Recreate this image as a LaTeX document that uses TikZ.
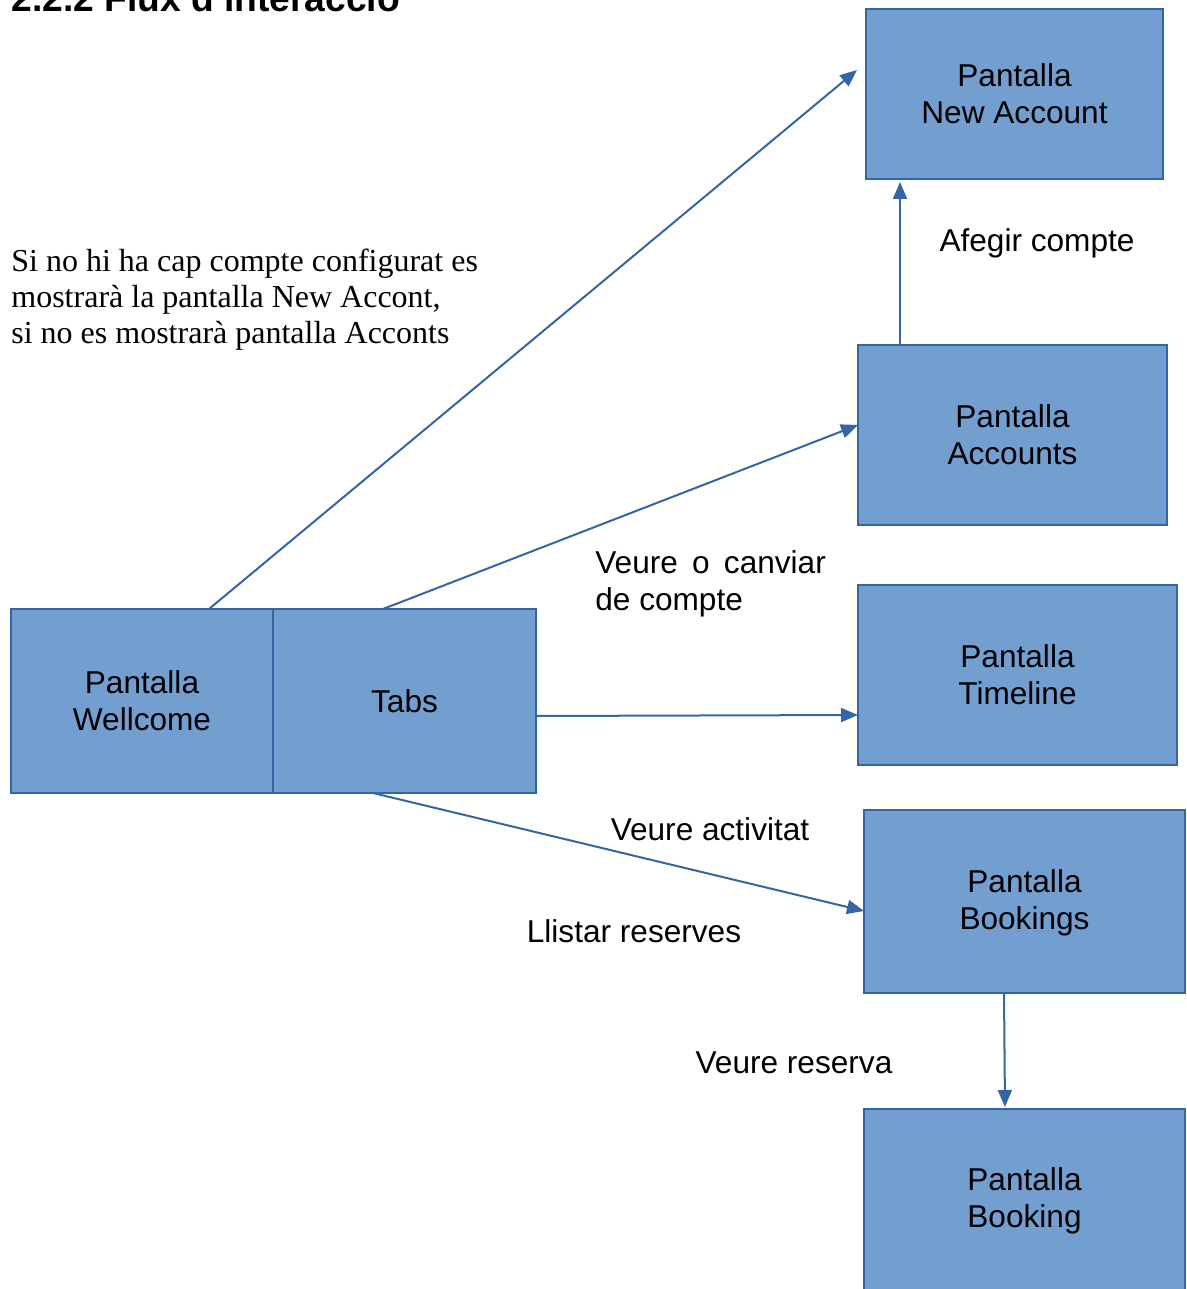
\documentclass[tikz,border=0pt]{standalone}
\usepackage{fontspec}
\setmainfont{Liberation Serif}
\setsansfont{Liberation Sans}
\usetikzlibrary{positioning,arrows.meta}
\definecolor{screenfill}{HTML}{729FCF}
\definecolor{screenline}{HTML}{3465A4}

\begin{document}
\begin{tikzpicture}[
  x=0.5pt,y=-0.5pt,
  screen/.style={rectangle,draw=screenline,fill=screenfill,line width=1pt,outer sep=0pt,
    inner sep=0pt,align=center,font=\sffamily\fontsize{15.8}{18.5}\selectfont},
  flow/.style={draw=screenline,line width=1pt,-{Triangle[length=8.5pt,width=7pt]}},
  action/.style={inner sep=0pt,font=\sffamily\fontsize{15.8}{18.5}\selectfont}
]
  \useasboundingbox (0,0) rectangle (1187,1289);
  \clip (0,0) rectangle (1187,1289);

  \node[anchor=base west,inner sep=0pt,font=\sffamily\bfseries\fontsize{18.6}{22}\selectfont]
    (title) at (11,12) {2.2.2 Flux d'interacció};

  % screens
  \node[screen,minimum width=131pt,minimum height=92pt] (wellcome) at (142,701) {Pantalla\\Wellcome};
  \node[screen,minimum width=131.5pt,minimum height=92pt,right=0pt of wellcome] (tabs) {Tabs};
  \node[screen,minimum width=148.5pt,minimum height=85pt] (newacc) at (1014.5,94) {Pantalla\\New Account};
  \node[screen,minimum width=154.5pt,minimum height=90pt] (accounts) at (1012.5,435) {Pantalla\\Accounts};
  \node[screen,minimum width=159.5pt,minimum height=90pt] (timeline) at (1017.5,675) {Pantalla\\Timeline};
  \node[screen,minimum width=160.5pt,minimum height=91.5pt,text depth=2pt] (bookings) at (1024.5,901.5) {Pantalla\\Bookings};
  \node[screen,minimum width=160.5pt,minimum height=91.5pt,text depth=2.5pt,below=58pt of bookings] (booking) {Pantalla\\Booking};

  % flows
  \draw[flow] ([xshift=33.5pt]wellcome.north) -- ([xshift=-4.5pt,yshift=12pt]newacc.west);
  \draw[flow] ([xshift=-10.75pt]tabs.north) -- ([yshift=5pt]accounts.west);
  \draw[flow] ([yshift=-7.5pt]tabs.east) -- ([yshift=-20pt]timeline.west);
  \draw[flow] ([xshift=-15.75pt]tabs.south) -- ([yshift=-4.75pt]bookings.west);
  \draw[flow,shorten >=1.5pt] ([xshift=-56.25pt]accounts.north) -- ([xshift=-57.25pt]newacc.south);
  \draw[flow,shorten >=1pt] ([xshift=-10.25pt]bookings.south) -- ([xshift=-9.75pt]booking.north);

  % texts
  \node[anchor=west,align=left,inner sep=0pt,font=\rmfamily\fontsize{16}{18}\selectfont] (hint) at (11,300)
    {Si no hi ha cap compte configurat es\\mostrarà la pantalla New Accont,\\si no es mostrarà pantalla Acconts};
  \node[action] (addacc) at (1037,243) {Afegir compte};
  \node[action,anchor=west,align=left] (change) at (595,583.5) {Veure\hspace{.45em}o\hspace{.45em}canviar\\de compte};
  \node[action] (activity) at (710,829) {Veure activitat};
  \node[action] (listing) at (634,931) {Llistar reserves};
  \node[action] (seebook) at (794,1063) {Veure reserva};
\end{tikzpicture}
\end{document}
